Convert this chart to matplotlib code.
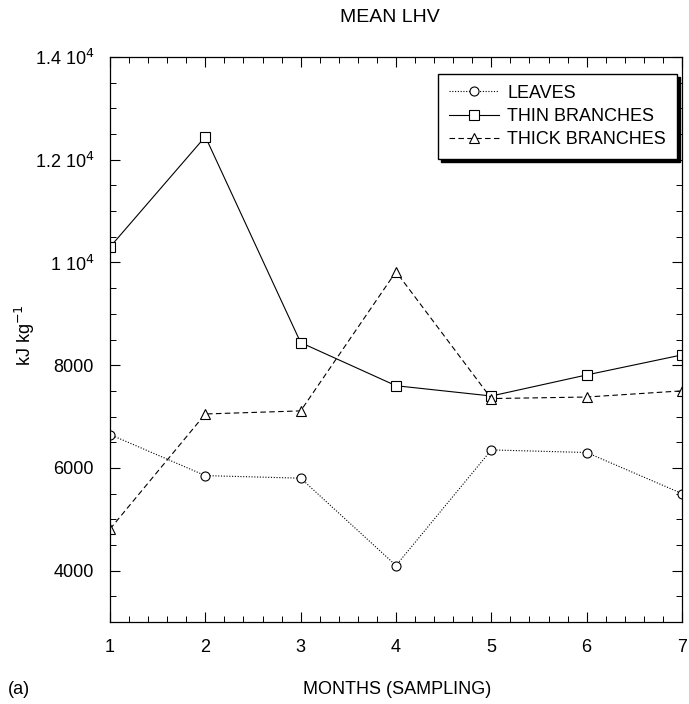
import matplotlib
matplotlib.use("Agg")
import matplotlib.pyplot as plt
from matplotlib.ticker import MultipleLocator, FixedLocator, FixedFormatter

plt.rcParams['font.family'] = ['Liberation Sans', 'DejaVu Sans']

# Mean lower heating value by sampling month
months = [1, 2, 3, 4, 5, 6, 7]
leaves = [6650, 5850, 5800, 4100, 6350, 6300, 5500]
thin_branches = [10300, 12450, 8440, 7600, 7400, 7810, 8200]
thick_branches = [4810, 7050, 7110, 9820, 7350, 7380, 7500]

series_labels = ["LEAVES", "THIN BRANCHES", "THICK BRANCHES"]
y_ticks = [4000, 6000, 8000, 10000, 12000, 14000]
y_tick_labels = ["4000", "6000", "8000", r"1 10$^4$", r"1.2 10$^4$", r"1.4 10$^4$"]

fig = plt.figure(figsize=(6.89, 7.04), dpi=100)
ax = fig.add_axes([110 / 689, 1 - 622 / 704, (682 - 110) / 689, (622 - 57) / 704])

lw = 0.8
ax.plot(months, leaves, color="black", lw=lw, ls=(0, (1, 1.5)), marker="o",
        ms=6.5, mfc="white", mec="black", mew=0.8, label=series_labels[0])
ax.plot(months, thin_branches, color="black", lw=lw, ls="-", marker="s",
        ms=6.5, mfc="white", mec="black", mew=0.8, label=series_labels[1])
ax.plot(months, thick_branches, color="black", lw=lw, ls=(0, (5, 3)), marker="^",
        ms=6.5, mfc="white", mec="black", mew=0.8, label=series_labels[2])

ax.set_xlim(1, 7)
ax.set_ylim(3000, 14000)
ax.xaxis.set_major_locator(MultipleLocator(1))
ax.xaxis.set_minor_locator(MultipleLocator(0.2))
ax.yaxis.set_major_locator(FixedLocator(y_ticks))
ax.yaxis.set_major_formatter(FixedFormatter(y_tick_labels))
ax.yaxis.set_minor_locator(MultipleLocator(500))

ax.tick_params(which="both", direction="in", top=True, right=True, color="black")
ax.tick_params(which="major", length=7, width=0.8, labelsize=13)
ax.tick_params(which="minor", length=4, width=0.7)
ax.tick_params(axis="x", which="major", pad=12)
ax.tick_params(axis="y", which="major", pad=11.5)
for sp in ax.spines.values():
    sp.set_linewidth(0.9)

leg = ax.legend(loc="upper right", bbox_to_anchor=(0.991, 0.970), borderaxespad=0,
                fontsize=13, frameon=True, fancybox=False, edgecolor="black",
                shadow={"color": "black", "alpha": 1.0},
                handlelength=2.8, handletextpad=0.45, borderpad=0.6,
                labelspacing=0.35)
leg.get_frame().set_linewidth(1.0)

fig.text(390 / 689, 1 - 18 / 704, "MEAN LHV", ha="center", va="center", fontsize=14)
fig.text(25 / 689, 1 - 335 / 704, r"kJ kg$^{-1}$", rotation=90,
         ha="center", va="center", fontsize=13)
fig.text(397 / 689, 1 - 690 / 704, "MONTHS (SAMPLING)", ha="center", va="center",
         fontsize=13)
fig.text(8 / 689, 1 - 690 / 704, "(a)", ha="left", va="center", fontsize=13)

fig.savefig("out.png", dpi=100)
